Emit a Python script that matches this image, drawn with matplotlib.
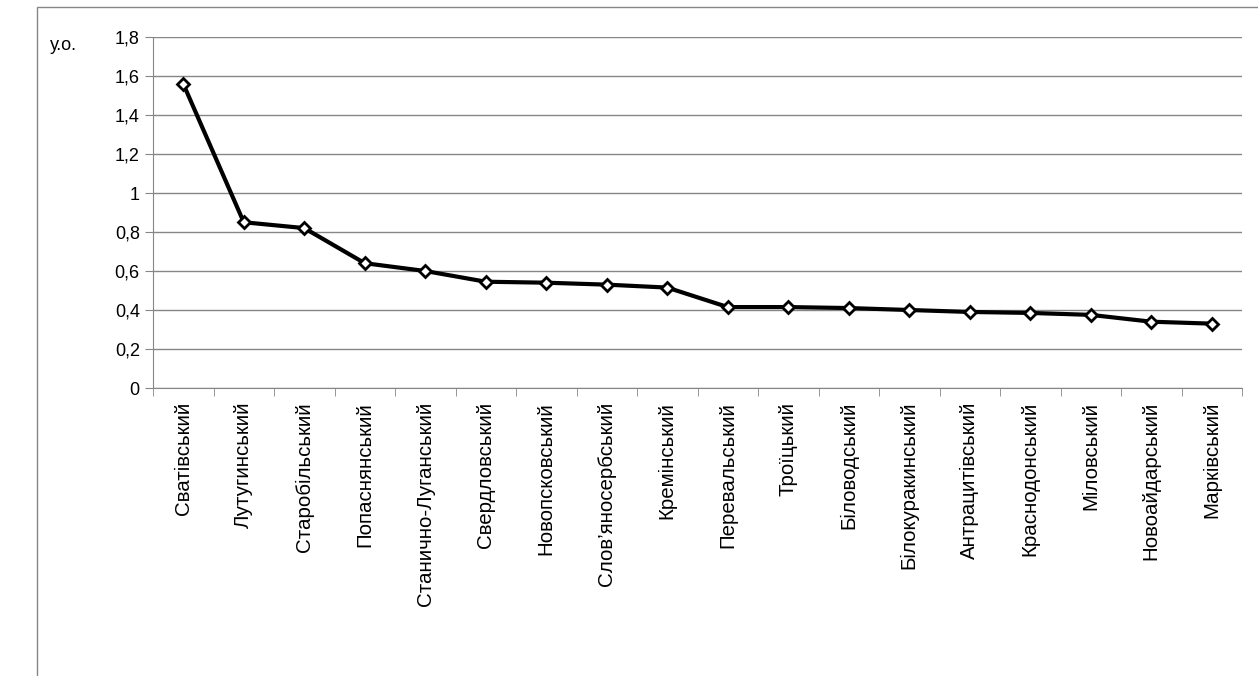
import matplotlib.pyplot as plt
import numpy as np
from matplotlib.patches import Rectangle

districts = ["Сватівський", "Лутугинський", "Старобільський", "Попаснянський",
             "Станично-Луганський", "Свердловський", "Новопсковський",
             "Слов’яносербський", "Кремінський", "Перевальський", "Троїцький",
             "Біловодський", "Білокуракинський", "Антрацитівський",
             "Краснодонський", "Міловський", "Новоайдарський", "Марківський"]
values = [1.56, 0.85, 0.82, 0.64, 0.60, 0.545, 0.54, 0.53, 0.515,
          0.415, 0.415, 0.41, 0.40, 0.39, 0.385, 0.375, 0.34, 0.33]
yticks = [0, 0.2, 0.4, 0.6, 0.8, 1.0, 1.2, 1.4, 1.6, 1.8]
ytick_labels = ["0", "0,2", "0,4", "0,6", "0,8", "1", "1,2", "1,4", "1,6", "1,8"]

plt.rcParams['font.family'] = ['Liberation Sans', 'DejaVu Sans']

W, H = 1258, 676
fig = plt.figure(figsize=(W / 100, H / 100), dpi=100)
ax = fig.add_axes([153 / W, 1 - 388 / H, (1242 - 153) / W, (388 - 37) / H])

x = np.arange(len(districts))
ax.plot(x, values, color="black", linewidth=3, marker="D", markersize=6,
        markerfacecolor="white", markeredgecolor="black", markeredgewidth=2)

ax.set_xlim(-0.5, len(districts) - 0.5)
ax.set_ylim(0, 1.8)
ax.set_yticks(yticks)
ax.set_yticklabels(ytick_labels, fontsize=13)
ax.yaxis.grid(True, color="#868686", linewidth=1)
ax.set_axisbelow(True)

ax.set_xticks(x)
ax.set_xticklabels(districts, rotation=90, fontsize=14.8)
ax.tick_params(axis="x", length=0, pad=10)
ax.set_xticks(np.arange(-0.5, len(districts)), minor=True)
ax.tick_params(axis="x", which="minor", length=6, color="#868686")
ax.tick_params(axis="y", length=6, color="#868686")

for s in ["top", "right"]:
    ax.spines[s].set_visible(False)
for s in ["left", "bottom"]:
    ax.spines[s].set_color("#868686")

fig.text(50 / W, 1 - 45 / H, "у.о.", fontsize=13, va="center")

fig.patches.append(Rectangle((37 / W, -0.01), 1.1, 1.01 - 7 / H,
                             transform=fig.transFigure, fill=False,
                             edgecolor="#868686", linewidth=1))

fig.savefig("out.png", dpi=100)
